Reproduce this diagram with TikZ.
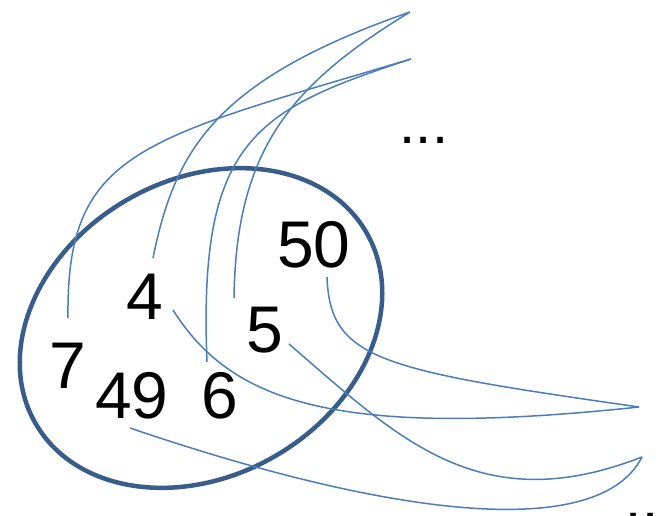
\documentclass[tikz,border=0pt]{standalone}
\usepackage{fontspec}
\setmainfont{Liberation Sans}
\definecolor{ringblue}{HTML}{385D8A}
\definecolor{lineblue}{HTML}{4A7EBB}
\tikzset{
  num/.style={inner sep=0pt, font=\fontsize{66}{66}\selectfont},
  dotsnode/.style={inner sep=0pt, anchor=base, font=\fontsize{58}{58}\selectfont},
  ring/.style={draw=ringblue, line width=4.5pt},
  link/.style={draw=lineblue, line width=1.5pt}
}
\begin{document}
\begin{tikzpicture}[x=1pt,y=-1pt]
\useasboundingbox (0,0) rectangle (662,516);
% ellipse
\draw[ring] (201,328) ellipse[x radius=191, y radius=148, rotate=30];
% numbers
\node[num] (n50) at (314,245) {50};
\node[num] (n4) at (145,297) {4};
\node[num] (n5) at (265,330) {5};
\node[num] (n7) at (68,366) {7};
\node[num] (n49) at (132,396) {49};
\node[num] (n6) at (220,396) {6};
\node[dotsnode] (dt) at (424,144) {...};
\node[dotsnode] (db) at (642,519) {..};
% end points
\coordinate (A) at (410,12);
\coordinate (B) at (411,59);
\coordinate (C) at (639,407);
\coordinate (D) at (642,457);
% start points
\coordinate (s7) at (68,318);
\coordinate (s4a) at (153,258);
\coordinate (s6) at (207,362);
\coordinate (s5a) at (234,298);
\coordinate (s50) at (327,277);
\coordinate (s4b) at (173,310);
\coordinate (s5b) at (289,344);
\coordinate (s49) at (130,428);
% links
\draw[link] (s7) .. controls (66,150) and (140,140) .. (B);
\draw[link] (s4a) .. controls (175,150) and (215,80) .. (A);
\draw[link] (s6) .. controls (198,140) and (255,110) .. (B);
\draw[link] (s5a) .. controls (236,150) and (290,85) .. (A);
\draw[link] (s50) .. controls (330,360) and (380,370) .. (C);
\draw[link] (s4b) .. controls (230,400) and (330,440) .. (C);
\draw[link] (s5b) .. controls (400,440) and (480,520) .. (D);
\draw[link] (s49) .. controls (400,520) and (600,540) .. (D);
\end{tikzpicture}
\end{document}
